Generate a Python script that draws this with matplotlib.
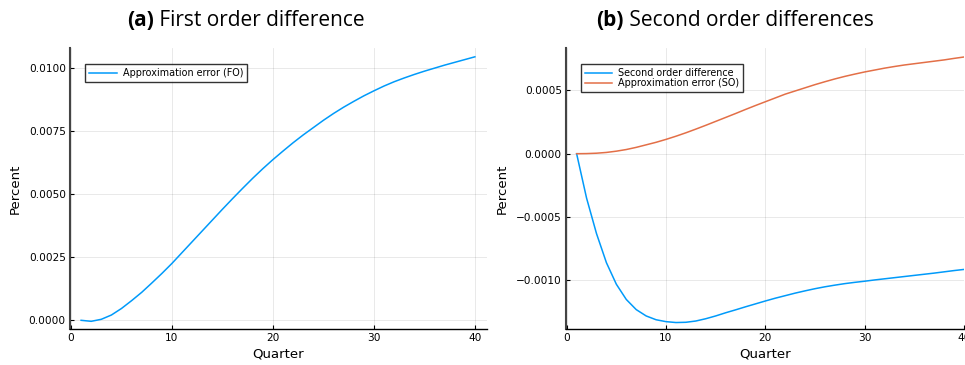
"""
Approximation errors of first and second order differences
"""

import numpy as np
import matplotlib
matplotlib.use('Agg')
import matplotlib.pyplot as plt
from matplotlib.ticker import FuncFormatter

# Data
quarters = list(range(1, 41))

fo_error = [0.0, -0.00004, 0.00004, 0.00021, 0.00047, 0.00078, 0.00111, 0.00148, 0.00186, 0.00226,
            0.00269, 0.00312, 0.00355, 0.00398, 0.00441, 0.00483, 0.00524, 0.00564, 0.00602, 0.00638,
            0.00672, 0.00705, 0.00736, 0.00765, 0.00794, 0.00821, 0.00846, 0.00869, 0.00891, 0.00911,
            0.00930, 0.00947, 0.00962, 0.00976, 0.00989, 0.01001, 0.01013, 0.01024, 0.01035, 0.01046]

so_difference = [0.0, -0.000350, -0.000630, -0.000860, -0.001030, -0.001150, -0.001230, -0.001280, -0.001310, -0.001325,
                 -0.001332, -0.001330, -0.001320, -0.001302, -0.001280, -0.001255, -0.001232, -0.001208, -0.001185, -0.001162,
                 -0.001140, -0.001120, -0.001100, -0.001082, -0.001065, -0.001050, -0.001037, -0.001025, -0.001015, -0.001006,
                 -0.000996, -0.000987, -0.000978, -0.000969, -0.000960, -0.000951, -0.000942, -0.000932, -0.000922, -0.000913]

so_error = [0.0, 0.000001, 0.000004, 0.00001, 0.00002, 0.000033, 0.00005, 0.00007, 0.00009, 0.000113,
            0.000138, 0.000165, 0.000194, 0.000224, 0.000255, 0.000286, 0.000317, 0.000349, 0.00038, 0.00041,
            0.00044, 0.00047, 0.000495, 0.00052, 0.000545, 0.000568, 0.00059, 0.00061, 0.000628, 0.000645,
            0.00066, 0.000675, 0.000688, 0.0007, 0.00071, 0.00072, 0.00073, 0.00074, 0.000752, 0.000763]

x_ticks = [0, 10, 20, 30, 40]
fo_yticks = [0.0, 0.0025, 0.005, 0.0075, 0.01]
so_yticks = [-0.001, -0.0005, 0.0, 0.0005]

BLUE = '#009AFA'
ORANGE = '#E36F47'

plt.rcParams['font.family'] = 'DejaVu Sans'

fig = plt.figure(figsize=(9.65, 3.65), dpi=100)
ax1 = fig.add_axes([70/965, 36/365, 417/965, 281/365])
ax2 = fig.add_axes([566/965, 36/365, 398/965, 281/365])

fmt = FuncFormatter(lambda v, pos: ('%.4f' % v).replace('-', '\u2212'))


def style_axes(ax):
    for side in ['top', 'right']:
        ax.spines[side].set_visible(False)
    ax.spines['left'].set_linewidth(1.5)
    ax.spines['left'].set_color('#444444')
    ax.spines['bottom'].set_linewidth(1.0)
    ax.spines['bottom'].set_color('black')
    ax.grid(True, color='black', alpha=0.1, linewidth=0.6)
    ax.tick_params(direction='in', length=3, width=0.8, labelsize=7.6, pad=3)
    ax.set_xticks(x_ticks)
    ax.yaxis.set_major_formatter(fmt)
    ax.set_xlabel('Quarter', fontsize=9.5, labelpad=3)
    ax.set_ylabel('Percent', fontsize=9.5, labelpad=5)


# (a) first order
ax1.plot(quarters, fo_error, color=BLUE, lw=1.1, label='Approximation error (FO)')
style_axes(ax1)
ax1.set_yticks(fo_yticks)
ax1.set_xlim(-0.1, 41.2)
ax1.set_ylim(-0.000345, 0.01081)

# (b) second order
ax2.plot(quarters, so_difference, color=BLUE, lw=1.1, label='Second order difference')
ax2.plot(quarters, so_error, color=ORANGE, lw=1.1, label='Approximation error (SO)')
style_axes(ax2)
ax2.set_yticks(so_yticks)
ax2.set_xlim(-0.07, 40.0)
ax2.set_ylim(-0.001383, 0.000834)

for ax in (ax1, ax2):
    leg = ax.legend(loc='upper left', fontsize=6.9, frameon=True, fancybox=False,
                    handlelength=2.9, handletextpad=0.6, borderpad=0.4,
                    labelspacing=0.05, bbox_to_anchor=(0.025, 0.96))
    leg.get_frame().set_edgecolor('black')
    leg.get_frame().set_linewidth(1.0)


def split_title(xc, yc, bold, rest):
    """Bold label followed by regular text, centred on xc"""
    r = fig.canvas.get_renderer()
    tb = fig.text(0, yc, bold, fontsize=15, fontweight='bold', family='Open Sans', va='center')
    tr = fig.text(0, yc, ' ' + rest, fontsize=15, family='Open Sans', va='center')
    wb = tb.get_window_extent(r).width / fig.bbox.width
    wr = tr.get_window_extent(r).width / fig.bbox.width
    x0 = xc - (wb + wr) / 2
    tb.set_x(x0)
    tr.set_x(x0 + wb)


split_title(246/965, 1 - 20/365, '(a)', 'First order difference')
split_title(735/965, 1 - 20/365, '(b)', 'Second order differences')

fig.savefig('out.png', dpi=100)
